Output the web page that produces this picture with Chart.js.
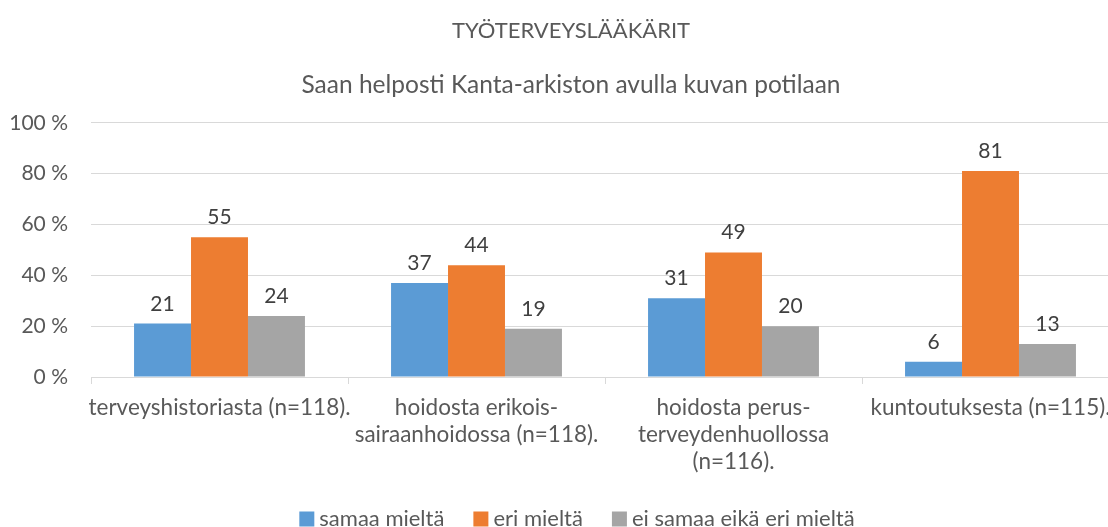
<!DOCTYPE html>
<html><head><meta charset="utf-8">
<script src="https://cdn.jsdelivr.net/npm/chart.js@4"></script>
<style>html,body{margin:0;padding:0;background:#fff;overflow:hidden}#w{width:1142px;height:527px}</style>
</head><body><div id="w"><canvas id="c" width="1142" height="527"></canvas></div>
<script>
const categories = ["terveyshistoriasta (n=118).", ["hoidosta erikois-","sairaanhoidossa (n=118)."], ["hoidosta perus-","terveydenhuollossa","(n=116)."], "kuntoutuksesta (n=115)."];
const samaa = [21, 37, 31, 6];
const eri = [55, 44, 49, 81];
const eiSamaa = [24, 19, 20, 13];
const seriesNames = ["samaa mieltä", "eri mieltä", "ei samaa eikä eri mieltä"];
const yTicks = [0, 20, 40, 60, 80, 100];
const FONT = "Lato, 'Noto Sans', sans-serif";

const labelPlugin = {
  id: 'dl',
  afterDatasetsDraw(chart) {
    const ctx = chart.ctx;
    ctx.save();
    ctx.font = "21px " + FONT;
    ctx.fillStyle = '#404040';
    ctx.textAlign = 'center';
    ctx.textBaseline = 'alphabetic';
    chart.data.datasets.forEach((ds, i) => {
      chart.getDatasetMeta(i).data.forEach((bar, j) => {
        ctx.fillText(String(ds.data[j]), bar.x, bar.y - 13);
      });
    });
    ctx.restore();
  }
};

const legendPlugin = {
  id: 'lg',
  afterDraw(chart) {
    const ctx = chart.ctx;
    ctx.save();
    ctx.font = "22px " + FONT;
    ctx.textBaseline = 'middle';
    ctx.textAlign = 'left';
    const box = 15, gap = 5, itemGap = 29, cy = 519;
    const items = chart.data.datasets.map(ds => ({t: ds.label, c: ds.backgroundColor, w: ctx.measureText(ds.label).width}));
    const total = items.reduce((s, it) => s + box + gap + it.w, 0) + itemGap * (items.length - 1);
    let x = chart.width / 2 + 6 - total / 2;
    items.forEach(it => {
      ctx.fillStyle = it.c;
      ctx.fillRect(x, cy - box / 2, box, box);
      x += box + gap;
      ctx.fillStyle = '#595959';
      ctx.fillText(it.t, x, cy);
      x += it.w + itemGap;
    });
    ctx.restore();
  }
};

const centerTitles = {
  id: 'ct',
  afterLayout(chart) {
    chart.boxes.forEach(b => {
      if (b.options && b.options.text !== undefined && b.fullSize) {
        b.left = 0; b.right = chart.width; b.width = chart.width;
      }
    });
  }
};

new Chart(document.getElementById('c'), {
  type: 'bar',
  data: {
    labels: categories,
    datasets: [
      {label: seriesNames[0], data: samaa, backgroundColor: '#5b9bd5'},
      {label: seriesNames[1], data: eri, backgroundColor: '#ed7d31'},
      {label: seriesNames[2], data: eiSamaa, backgroundColor: '#a5a5a5'}
    ]
  },
  options: {
    responsive: false,
    animation: false,
    events: [],
    layout: {padding: {left: 10, right: 23, top: 0, bottom: 41}},
    datasets: {bar: {categoryPercentage: 0.665, barPercentage: 1.0}},
    plugins: {
      title: {display: true, text: 'TYÖTERVEYSLÄÄKÄRIT', color: '#595959', font: {family: FONT, size: 22, weight: 'normal'}, padding: {top: 18, bottom: 26}},
      subtitle: {display: true, text: 'Saan helposti Kanta-arkiston avulla kuvan potilaan', color: '#595959', font: {family: FONT, size: 24.5, weight: 'normal'}, padding: {top: 0, bottom: 23}},
      legend: {display: false},
      tooltip: {enabled: false}
    },
    scales: {
      y: {
        min: 0, max: 100,
        afterBuildTicks(axis) { axis.ticks = yTicks.map(v => ({value: v})); },
        afterFit(axis) { axis.width = 81; },
        ticks: {color: '#595959', font: {family: FONT, size: 21}, padding: 23, callback: v => v + ' %'},
        grid: {color: '#d9d9d9', drawTicks: false},
        border: {display: false}
      },
      x: {
        afterFit(axis) { axis.height = 109; },
        ticks: {color: '#595959', font: {family: FONT, size: 22.5, lineHeight: 1.2}, padding: 10, maxRotation: 0, autoSkip: false},
        grid: {drawOnChartArea: false, color: '#d9d9d9', tickLength: 7, offset: true},
        border: {color: '#d9d9d9'}
      }
    }
  },
  plugins: [labelPlugin, legendPlugin, centerTitles]
});
</script></body></html>
